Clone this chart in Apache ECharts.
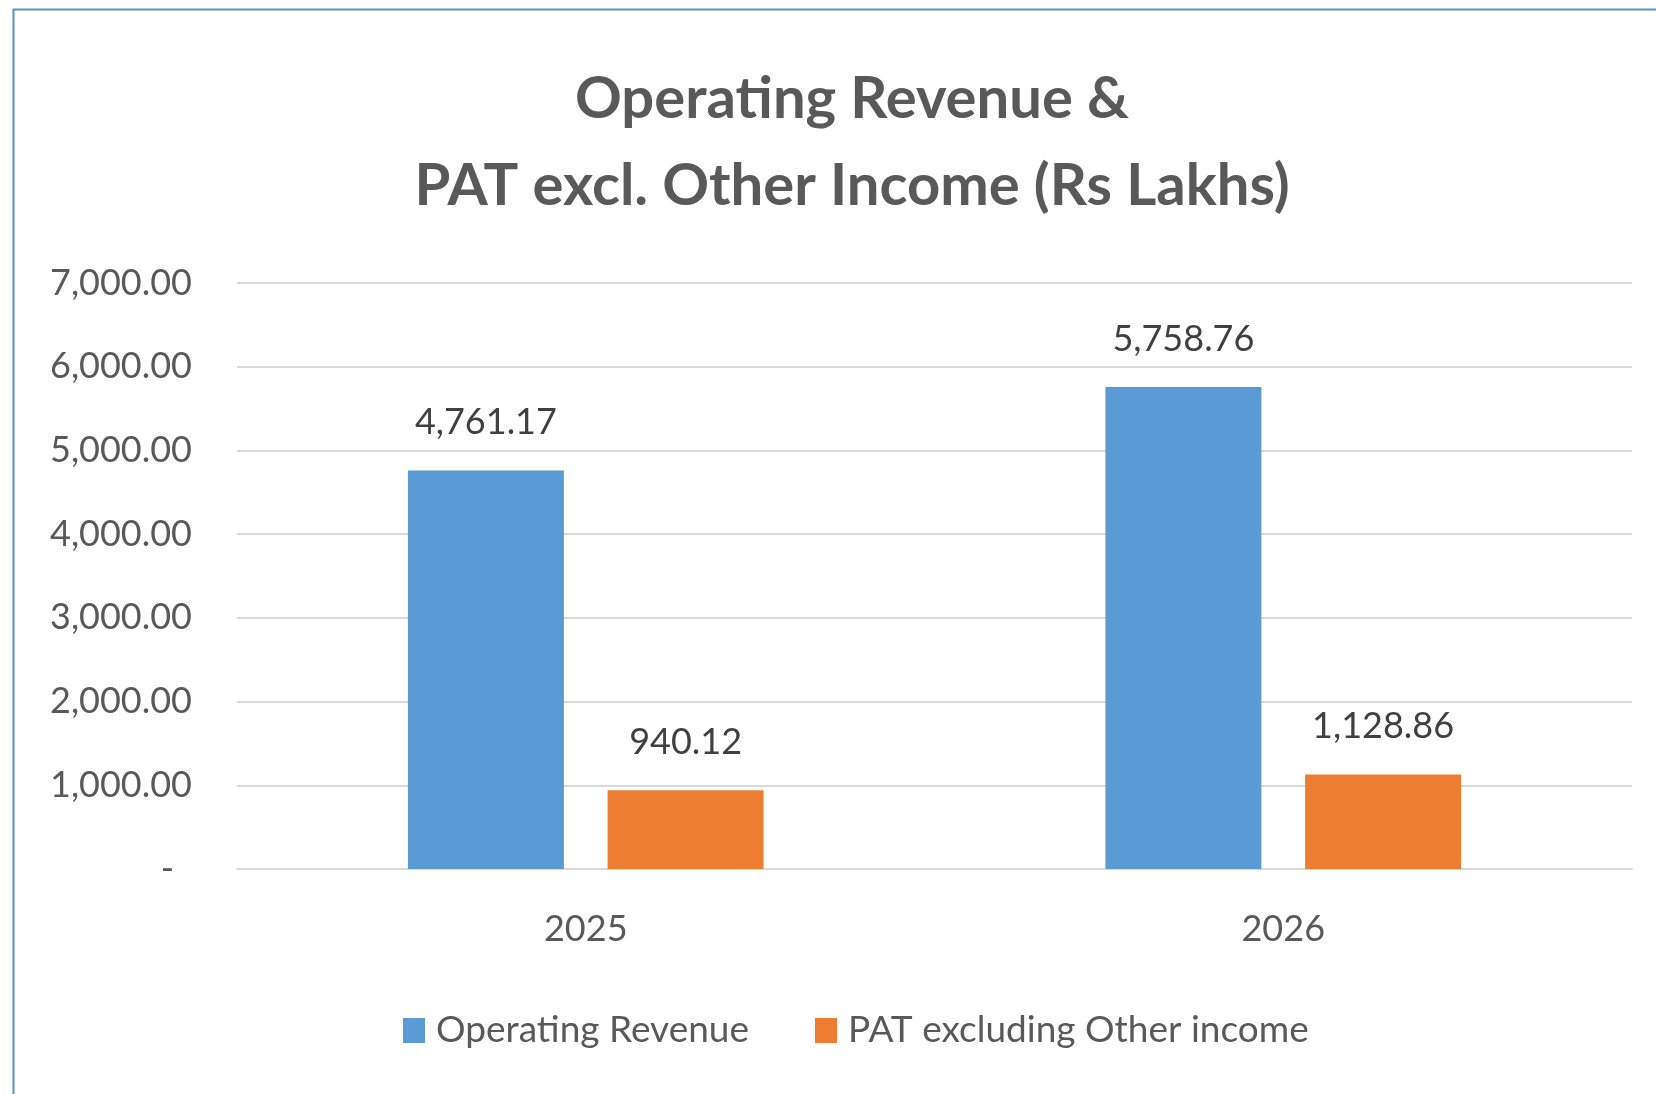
<!DOCTYPE html>
<html><head><meta charset="utf-8">
<script src="https://cdn.jsdelivr.net/npm/echarts@6/dist/echarts.min.js"></script>
<style>html,body{margin:0;padding:0;background:#fff}#c{width:1656px;height:1094px}</style>
</head><body><div id="c"></div>
<script>
const titleLines = ['Operating Revenue &', 'PAT excl. Other Income (Rs Lakhs)'];
const categories = ['2025', '2026'];
const seriesNames = ['Operating Revenue', 'PAT excluding Other income'];
const operatingRevenue = [4761.17, 5758.76];
const patExclOtherIncome = [940.12, 1128.86];
const yTicks = [0, 1000, 2000, 3000, 4000, 5000, 6000, 7000];

const FONT = 'Lato';
const fmt = v => v.toLocaleString('en-US', {minimumFractionDigits: 2, maximumFractionDigits: 2});
const chart = echarts.init(document.getElementById('c'));
chart.setOption({
  animation: false,
  backgroundColor: '#ffffff',
  title: [
    {text: titleLines[0], left: 847, textAlign: 'center', top: 65, textStyle: {fontFamily: FONT, fontWeight: 'bold', fontSize: 58, color: '#595959'}},
    {text: titleLines[1], left: 847, textAlign: 'center', top: 152, textStyle: {fontFamily: FONT, fontWeight: 'bold', fontSize: 58, color: '#595959'}}
  ],
  graphic: [{type: 'rect', shape: {x: 13.5, y: 9.5, width: 1700, height: 1200}, style: {fill: 'none', stroke: '#5b8fd0', lineWidth: 2}, silent: true}],
  legend: {
    left: 398, top: 1007, itemWidth: 22, itemHeight: 25, itemGap: 66,
    icon: 'rect',
    textStyle: {fontFamily: FONT, fontSize: 37, color: '#595959', padding: [0, 0, 0, 6]},
    data: seriesNames
  },
  grid: {left: 237, right: 24, top: 283, bottom: 225, containLabel: false},
  xAxis: {
    type: 'category', data: categories,
    axisLine: {lineStyle: {color: '#d9d9d9', width: 2}},
    axisTick: {show: false},
    axisLabel: {fontFamily: FONT, fontSize: 36, color: '#595959', margin: 42}
  },
  yAxis: {
    type: 'value', min: 0, max: 7000, interval: 1000,
    axisLine: {show: false}, axisTick: {show: false},
    splitLine: {lineStyle: {color: '#d9d9d9', width: 2}},
    axisLabel: {fontFamily: FONT, fontSize: 36, color: '#595959', margin: 45,
      formatter: v => yTicks.includes(v) ? (v === 0 ? '{z|-}' : fmt(v)) : '',
      rich: {z: {fontFamily: FONT, fontSize: 36, color: '#595959', padding: [0, 18, 0, 0]}}}
  },
  series: [
    {name: seriesNames[0], type: 'bar', data: operatingRevenue, barWidth: 156, barGap: '28%',
      itemStyle: {color: '#5B9BD5'},
      label: {show: true, position: 'top', distance: 30, fontFamily: FONT, fontSize: 36, color: '#404040', formatter: p => fmt(p.value)}},
    {name: seriesNames[1], type: 'bar', data: patExclOtherIncome, barWidth: 156,
      itemStyle: {color: '#ED7D31'},
      label: {show: true, position: 'top', distance: 30, fontFamily: FONT, fontSize: 36, color: '#404040', formatter: p => fmt(p.value)}}
  ]
});
</script></body></html>
